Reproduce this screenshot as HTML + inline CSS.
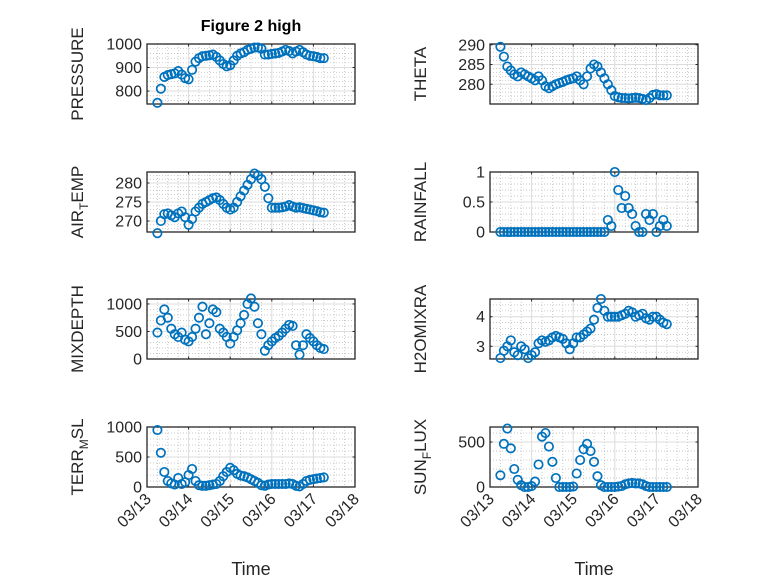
<!DOCTYPE html>
<html><head><meta charset="utf-8"><style>
body{margin:0;background:#fff;}
svg{display:block;font-family:"Liberation Sans",sans-serif;}
</style></head><body>
<svg id="fig" width="778" height="583" xmlns="http://www.w3.org/2000/svg">
<rect width="778" height="583" fill="#fff"/>
<text x="251" y="31" text-anchor="middle" font-size="16" font-weight="bold" fill="#000">Figure 2 high</text>
</svg>
<script>
// time in days (March), 2-hourly
const times = [];
for (let i = 0; i < 49; i++) times.push(13.25 + i / 12);
const xTickLabels = ["03/13","03/14","03/15","03/16","03/17","03/18"];
const xTickDays = [13,14,15,16,17,18];

const pressure = [750,810,860,868,872,875,885,870,855,850,890,925,940,948,950,952,955,945,930,915,905,910,930,950,960,965,975,980,985,985,980,955,955,958,960,962,968,975,970,960,968,975,965,955,950,948,945,940,940];
const airTemp = [266.8,270,271.8,272,271.5,271,272,272.5,271,269,270.5,272.5,273.5,274.5,275,275.5,276,276.2,275.5,274.5,273.5,273,273.5,275,276.5,278,279.5,281,282.5,282,281,279,276,273.5,273.5,273.5,273.6,273.8,274.2,273.8,273.5,273.6,273.4,273.2,273,272.8,272.6,272.3,272.2];
const mixDepth = [480,700,900,750,550,450,400,480,350,320,400,550,750,950,450,650,900,850,550,480,400,280,400,520,650,800,1000,1100,950,650,450,150,250,320,380,420,480,550,620,600,250,80,250,450,380,320,250,200,180];
const terrMsl = [950,570,250,100,60,40,150,50,80,200,300,100,30,20,20,30,40,50,100,180,250,320,280,220,190,180,160,130,100,70,30,20,40,50,50,50,50,50,60,50,20,10,50,100,120,130,140,150,160];
const theta = [289.5,287,284.5,283.5,282.5,282,283,282.5,282,281.5,281,282,281,279.5,279,279.5,280,280.3,280.6,281,281.3,281.5,282,281,280,282,284,285,284.5,283,281.5,280,278.5,277,276.7,276.5,276.5,276.4,276.5,276.6,276.5,276.3,276,276.5,277.3,277.5,277.2,277.2,277.2];
const rainfall = [0,0,0,0,0,0,0,0,0,0,0,0,0,0,0,0,0,0,0,0,0,0,0,0,0,0,0,0,0,0,0,0.2,0.1,1.0,0.7,0.4,0.6,0.4,0.3,0.1,0,0,0.3,0.2,0.3,0,0.1,0.2,0.1];
const h2o = [2.6,2.85,3.0,3.2,2.8,2.7,3.0,2.9,2.6,2.7,2.8,3.1,3.2,3.15,3.2,3.3,3.35,3.3,3.25,3.1,2.9,3.1,3.3,3.3,3.4,3.5,3.6,3.9,4.3,4.6,4.2,4.0,4.0,4.0,4.0,4.05,4.1,4.2,4.15,4.0,4.05,4.1,3.95,3.9,4.0,4.0,3.9,3.8,3.75];
const sunFlux = [130,480,650,430,200,80,20,0,0,10,60,250,560,600,450,280,100,0,0,0,0,5,150,300,420,480,400,280,120,20,0,0,0,0,5,10,30,40,45,40,40,30,10,0,0,0,0,0,0];

const panels = [
 {name:"pressure", x0:147, y0:44, lab:["PRESSURE"], data:pressure, ylim:[745,1000], ticks:[800,900,1000], tl:["800","900","1000"], xl:false},
 {name:"air-temp", x0:147, y0:172, lab:["AIR","T","EMP"], data:airTemp, ylim:[267.1,282.9], ticks:[270,275,280], tl:["270","275","280"], xl:false},
 {name:"mixdepth", x0:147, y0:299, lab:["MIXDEPTH"], data:mixDepth, ylim:[0,1090], ticks:[0,500,1000], tl:["0","500","1000"], xl:false},
 {name:"terr-msl", x0:147, y0:427, lab:["TERR","M","SL"], data:terrMsl, ylim:[0,1000], ticks:[0,500,1000], tl:["0","500","1000"], xl:true},
 {name:"theta", x0:490, y0:44, lab:["THETA"], data:theta, ylim:[275,290.2], ticks:[280,285,290], tl:["280","285","290"], xl:false},
 {name:"rainfall", x0:490, y0:172, lab:["RAINFALL"], data:rainfall, ylim:[0,1], ticks:[0,0.5,1], tl:["0","0.5","1"], xl:false},
 {name:"h2omixra", x0:490, y0:299, lab:["H2OMIXRA"], data:h2o, ylim:[2.57,4.6], ticks:[3,4], tl:["3","4"], xl:false},
 {name:"sun-flux", x0:490, y0:427, lab:["SUN","F","LUX"], data:sunFlux, ylim:[0,667], ticks:[0,500], tl:["0","500"], xl:true}
];
const W = 208, H = 60, NS = "http://www.w3.org/2000/svg";
const svg = document.getElementById('fig');
function mk(tag, attrs, parent) {
  const e = document.createElementNS(NS, tag);
  for (const k in attrs) e.setAttribute(k, attrs[k]);
  parent.appendChild(e);
  return e;
}
panels.forEach(p => {
  const g = mk('g', {}, svg);
  
  
  const xs = d => p.x0 + (d - 13) / 5 * W;
  const ys = v => p.y0 + H - (v - p.ylim[0]) / (p.ylim[1] - p.ylim[0]) * H;
  for (let d = 13; d < 18; d += 0.25) {
    if (Math.abs(d - Math.round(d)) < 1e-6) continue;
    mk('line', {x1:xs(d), x2:xs(d), y1:p.y0, y2:p.y0+H, stroke:'#b8b8b8', 'stroke-width':0.7, 'stroke-dasharray':'1 2'}, g);
  }
  const step = p.ticks[1] - p.ticks[0], ms = step / 5;
  for (let v = p.ticks[0] - step; v <= p.ylim[1] + 1e-9; v += ms) {
    if (v < p.ylim[0] || v > p.ylim[1]) continue;
    if (p.ticks.some(t => Math.abs(t - v) < 1e-6)) continue;
    mk('line', {x1:p.x0, x2:p.x0+W, y1:ys(v), y2:ys(v), stroke:'#b8b8b8', 'stroke-width':0.7, 'stroke-dasharray':'1 2'}, g);
  }
  xTickDays.forEach(d => mk('line', {x1:xs(d), x2:xs(d), y1:p.y0, y2:p.y0+H, stroke:'#dcdcdc', 'stroke-width':1}, g));
  p.ticks.forEach(t => mk('line', {x1:p.x0, x2:p.x0+W, y1:ys(t), y2:ys(t), stroke:'#dcdcdc', 'stroke-width':1}, g));
  xTickDays.forEach(d => {
    mk('line', {x1:xs(d), x2:xs(d), y1:p.y0+H, y2:p.y0+H-2.5, stroke:'#262626'}, g);
    mk('line', {x1:xs(d), x2:xs(d), y1:p.y0, y2:p.y0+2.5, stroke:'#262626'}, g);
  });
  p.ticks.forEach((t, i) => {
    mk('line', {x1:p.x0, x2:p.x0+2.5, y1:ys(t), y2:ys(t), stroke:'#262626'}, g);
    mk('line', {x1:p.x0+W, x2:p.x0+W-2.5, y1:ys(t), y2:ys(t), stroke:'#262626'}, g);
    const tx = mk('text', {x:p.x0-5, y:ys(t)+5.5, 'text-anchor':'end', 'font-size':16, fill:'#262626'}, g);
    
    
    tx.textContent = p.tl[i];
  });
  const box = mk('rect', {x:p.x0, y:p.y0, width:W, height:H, fill:'none', stroke:'#262626', 'stroke-width':1.3}, g);
  
  
  p.data.forEach((v, i) => {
    const c = mk('circle', {cx:xs(times[i]), cy:ys(v), r:4.2, fill:'none', stroke:'#0072BD', 'stroke-width':1.7}, g);
    
    
  });
  const lx = p.x0 - 64, ly = p.y0 + H / 2;
  const yl = mk('text', {x:lx, y:ly, 'text-anchor':'middle', 'font-size':17, fill:'#262626', transform:`rotate(-90 ${lx} ${ly})`}, g);
  
  
  if (p.lab.length === 1) yl.textContent = p.lab[0];
  else {
    const a = mk('tspan', {}, yl); a.textContent = p.lab[0];
    const b = mk('tspan', {dy:5, 'font-size':12}, yl); b.textContent = p.lab[1];
    const c = mk('tspan', {dy:-5}, yl); c.textContent = p.lab[2];
  }
  if (p.xl) {
    xTickDays.forEach((d, i) => {
      const tx0 = xs(d) + 5, ty0 = p.y0 + H + 13;
      const t = mk('text', {x:tx0, y:ty0, 'text-anchor':'end', 'font-size':16, fill:'#262626', transform:`rotate(-45 ${tx0} ${ty0})`}, g);
      
      
      t.textContent = xTickLabels[i];
    });
    const xt = mk('text', {x:p.x0 + W / 2, y:575, 'text-anchor':'middle', 'font-size':18, fill:'#262626'}, g);
    
    
    xt.textContent = 'Time';
  }
});
</script>
</body></html>
